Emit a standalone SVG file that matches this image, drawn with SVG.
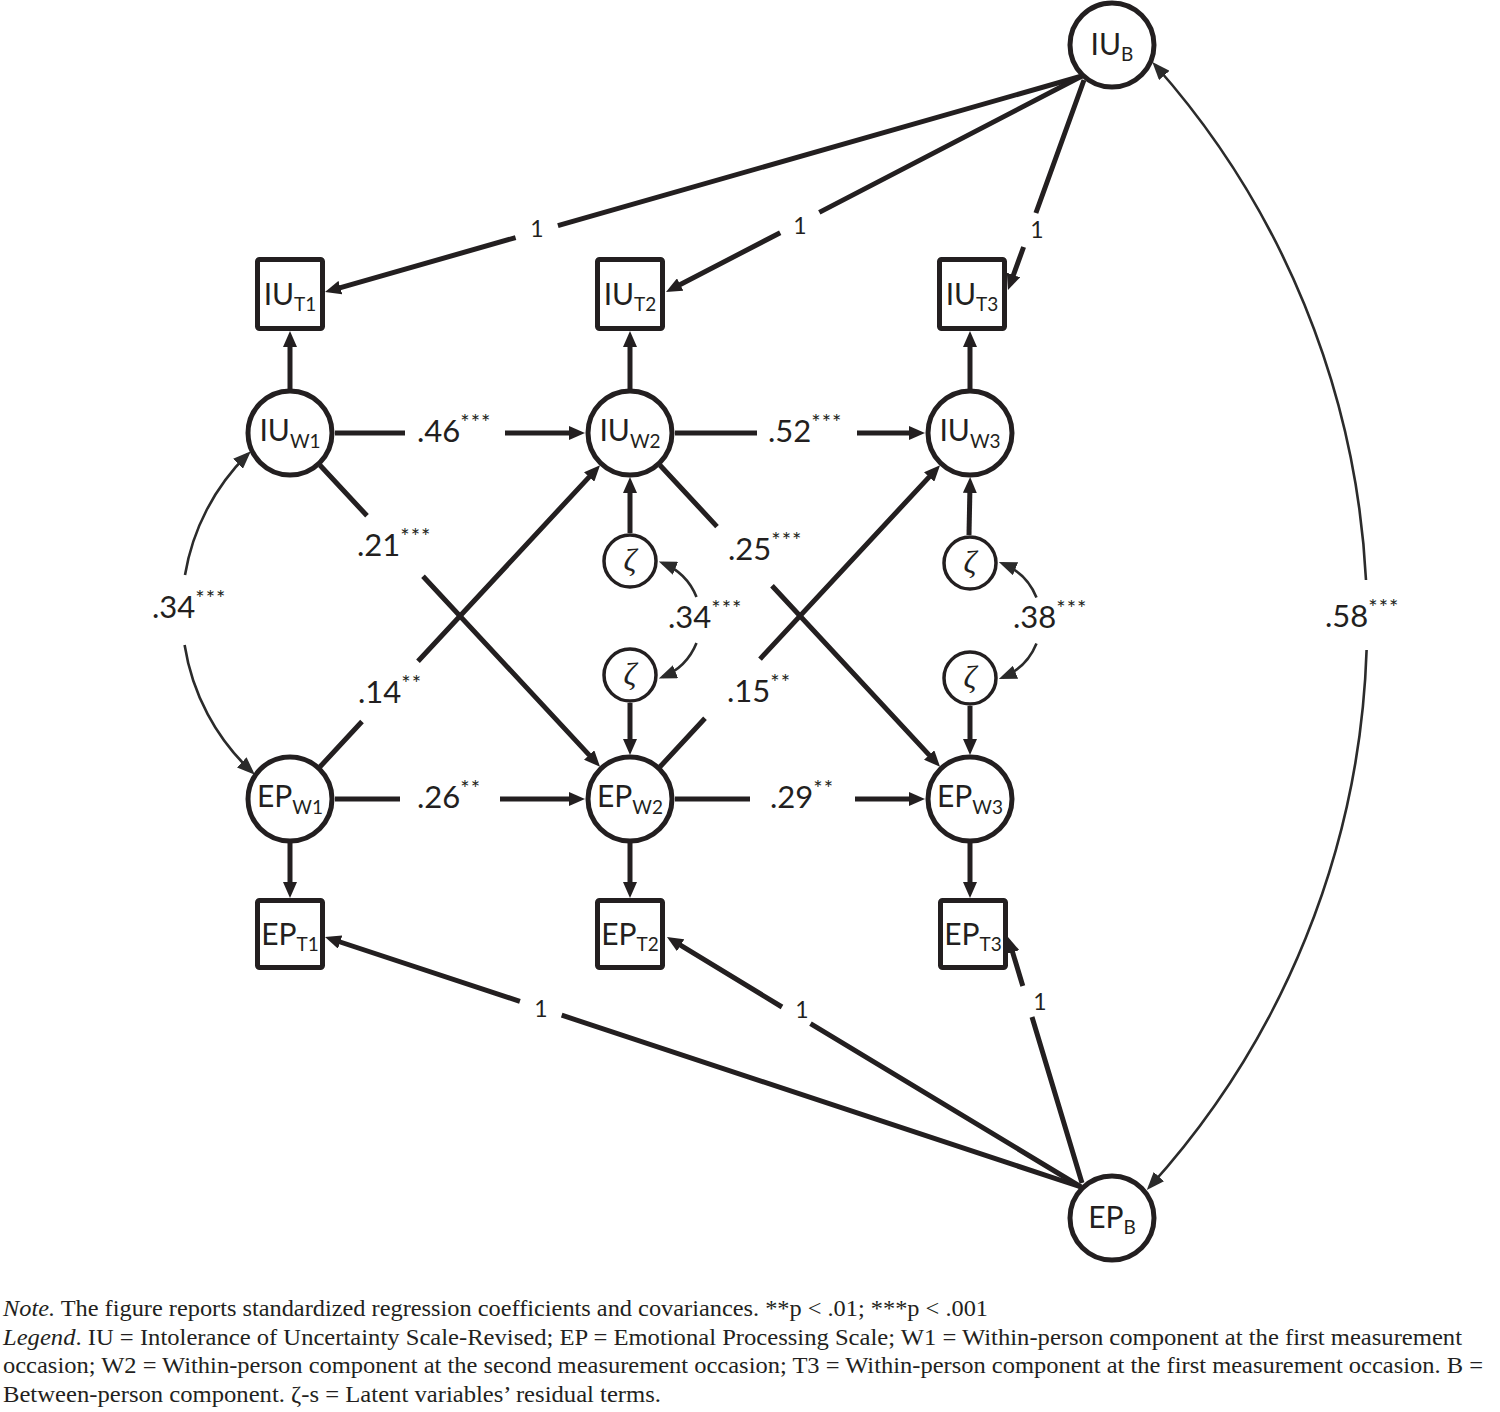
<svg xmlns="http://www.w3.org/2000/svg" width="1500" height="1412" viewBox="0 0 1500 1412">
<style>
.bg{fill:#ffffff}
.node{fill:#ffffff;stroke:#231f20;stroke-width:5}
.zeta{fill:#ffffff;stroke:#231f20;stroke-width:3.5}
.lbl{font-family:Lato,"Open Sans","Liberation Sans",sans-serif;font-size:30px;fill:#231f20;text-anchor:middle}
.sub{font-size:19px}
.zt{font-family:"Liberation Serif","DejaVu Serif",serif;font-style:italic;font-size:32px;fill:#231f20;text-anchor:middle}
.thick{fill:none;stroke:#231f20;stroke-width:5}
.thin{fill:none;stroke:#2b2b2b;stroke-width:2.6}
.coef{font-family:Lato,"Open Sans","Liberation Sans",sans-serif;font-size:31px;fill:#231f20}
.st{font-size:22px;letter-spacing:1px}
.one{font-family:Lato,"Open Sans","Liberation Sans",sans-serif;font-size:23px;fill:#231f20;text-anchor:middle}
.note{font-family:"Liberation Serif","Times New Roman",serif;font-size:24px;fill:#231f20}
</style>
<defs>
<marker id="ah" markerUnits="userSpaceOnUse" viewBox="0 0 16 14" markerWidth="16" markerHeight="14" refX="8" refY="7" orient="auto"><path d="M0,0 L16,7 L0,14 z" fill="#231f20"/></marker>
<marker id="ahs" markerUnits="userSpaceOnUse" viewBox="0 0 18 14" markerWidth="18" markerHeight="14" refX="14" refY="7" orient="auto-start-reverse"><path d="M0,0 L18,7 L0,14 z" fill="#2b2b2b"/></marker>
</defs>
<rect class="bg" x="0" y="0" width="1500" height="1412"/>

<g id="connectors">
<path class="thick" marker-end="url(#ah)" d="M1082 76 L557.9 225.6 M515.6 237.6 L332.7 289.8"/>
<path class="thick" marker-end="url(#ah)" d="M1082 76 L819.3 212.4 M780.2 232.7 L673.1 288.3"/>
<path class="thick" marker-end="url(#ah)" d="M1084 80 L1035.9 213 M1023.6 247 L1010.7 282.5"/>
<path class="thick" marker-end="url(#ah)" d="M1081 1187 L561.7 1015.2 M519.9 1001.4 L332.6 939.5"/>
<path class="thick" marker-end="url(#ah)" d="M1081 1187 L810.5 1023.6 M782 1007 L673.8 941.1"/>
<path class="thick" marker-end="url(#ah)" d="M1082 1183 L1032 1017 M1022.8 986 L1010.3 944.6"/>
<path class="thick" marker-end="url(#ah)" d="M290 389 V339"/>
<path class="thick" marker-end="url(#ah)" d="M630 389 V339"/>
<path class="thick" marker-end="url(#ah)" d="M970 389 V339"/>
<path class="thick" marker-end="url(#ah)" d="M290 843 V890"/>
<path class="thick" marker-end="url(#ah)" d="M630 843 V890"/>
<path class="thick" marker-end="url(#ah)" d="M970 843 V890"/>
<path class="thick" marker-end="url(#ah)" d="M630 533 V485"/>
<path class="thick" marker-end="url(#ah)" d="M630 703 V747"/>
<path class="thick" marker-end="url(#ah)" d="M969 535 L970 485"/>
<path class="thick" marker-end="url(#ah)" d="M970 706 V747"/>
<path class="thick" marker-end="url(#ah)" d="M335 433 H405 M505 433 H577"/>
<path class="thick" marker-end="url(#ah)" d="M675 433 H757 M857 433 H917"/>
<path class="thick" marker-end="url(#ah)" d="M335 799 H400 M500 799 H577"/>
<path class="thick" marker-end="url(#ah)" d="M675 799 H750 M855 799 H917"/>
<path class="thick" marker-end="url(#ah)" d="M320 465.2 L367 515.8 M423 576.2 L594.6 760.9"/>
<path class="thick" marker-end="url(#ah)" d="M320 766.8 L362 721.5 M418 661.3 L594.6 471.1"/>
<path class="thick" marker-end="url(#ah)" d="M660 465.2 L717 526.6 M772 585.8 L934.6 760.9"/>
<path class="thick" marker-end="url(#ah)" d="M660 766.8 L705 718.3 M760 659.1 L934.6 471.1"/>
<path class="thin" marker-start="url(#ahs)" d="M248 454 A220 220 0 0 0 185 575"/>
<path class="thin" marker-end="url(#ahs)" d="M184.6 645 A220 220 0 0 0 252 772"/>
<path class="thin" marker-start="url(#ahs)" d="M662.5 563 A61.5 61.5 0 0 1 696.5 597"/>
<path class="thin" marker-end="url(#ahs)" d="M696.5 643 A61.5 61.5 0 0 1 662.5 677"/>
<path class="thin" marker-start="url(#ahs)" d="M1002.5 563.5 A61.5 61.5 0 0 1 1036.5 597.5"/>
<path class="thin" marker-end="url(#ahs)" d="M1036.5 643.5 A61.5 61.5 0 0 1 1002.5 677.5"/>
<path class="thin" marker-start="url(#ahs)" d="M1155 65 A840 840 0 0 1 1366 580"/>
<path class="thin" marker-end="url(#ahs)" d="M1366.6 650 A840 840 0 0 1 1149.5 1187"/>
</g>

<g id="edge-labels">
<text class="one" x="537" y="237">1</text>
<text class="one" x="800" y="234">1</text>
<text class="one" x="1037" y="238">1</text>
<text class="one" x="541" y="1017">1</text>
<text class="one" x="802" y="1018">1</text>
<text class="one" x="1040" y="1010">1</text>
<text class="coef" x="417" y="442">.46<tspan class="st" dy="-12">***</tspan></text>
<text class="coef" x="768" y="442">.52<tspan class="st" dy="-12">***</tspan></text>
<text class="coef" x="417" y="808">.26<tspan class="st" dy="-12">**</tspan></text>
<text class="coef" x="770" y="808">.29<tspan class="st" dy="-12">**</tspan></text>
<text class="coef" x="357" y="556">.21<tspan class="st" dy="-12">***</tspan></text>
<text class="coef" x="358" y="703">.14<tspan class="st" dy="-12">**</tspan></text>
<text class="coef" x="728" y="560">.25<tspan class="st" dy="-12">***</tspan></text>
<text class="coef" x="727" y="702">.15<tspan class="st" dy="-12">**</tspan></text>
<text class="coef" x="152" y="618">.34<tspan class="st" dy="-12">***</tspan></text>
<text class="coef" x="668" y="628">.34<tspan class="st" dy="-12">***</tspan></text>
<text class="coef" x="1013" y="628">.38<tspan class="st" dy="-12">***</tspan></text>
<text class="coef" x="1325" y="627">.58<tspan class="st" dy="-12">***</tspan></text>
</g>

<g id="IU_B"><circle class="node" cx="1112" cy="45" r="42"/><text class="lbl" x="1112" y="55">IU<tspan class="sub" dy="6">B</tspan></text></g>
<g id="EP_B"><circle class="node" cx="1112" cy="1218" r="42"/><text class="lbl" x="1112" y="1228">EP<tspan class="sub" dy="6">B</tspan></text></g>

<g id="IU_T1"><rect class="node" x="257.5" y="259.5" width="65" height="69" rx="2"/><text class="lbl" x="290" y="305">IU<tspan class="sub" dy="6">T1</tspan></text></g>
<g id="IU_T2"><rect class="node" x="597.5" y="259.5" width="65" height="69" rx="2"/><text class="lbl" x="630" y="305">IU<tspan class="sub" dy="6">T2</tspan></text></g>
<g id="IU_T3"><rect class="node" x="939.5" y="259.5" width="65" height="69" rx="2"/><text class="lbl" x="972" y="305">IU<tspan class="sub" dy="6">T3</tspan></text></g>

<g id="IU_W1"><circle class="node" cx="290" cy="433" r="42"/><text class="lbl" x="290" y="441">IU<tspan class="sub" dy="7">W1</tspan></text></g>
<g id="IU_W2"><circle class="node" cx="630" cy="433" r="42"/><text class="lbl" x="630" y="441">IU<tspan class="sub" dy="7">W2</tspan></text></g>
<g id="IU_W3"><circle class="node" cx="970" cy="433" r="42"/><text class="lbl" x="970" y="441">IU<tspan class="sub" dy="7">W3</tspan></text></g>

<g id="zeta_IU2"><circle class="zeta" cx="630" cy="561" r="26"/><text class="zt" x="630" y="571">ζ</text></g>
<g id="zeta_EP2"><circle class="zeta" cx="630" cy="675" r="26"/><text class="zt" x="630" y="685">ζ</text></g>
<g id="zeta_IU3"><circle class="zeta" cx="970" cy="563" r="26"/><text class="zt" x="970" y="573">ζ</text></g>
<g id="zeta_EP3"><circle class="zeta" cx="970" cy="678" r="26"/><text class="zt" x="970" y="688">ζ</text></g>

<g id="EP_W1"><circle class="node" cx="290" cy="799" r="42"/><text class="lbl" x="290" y="807">EP<tspan class="sub" dy="7">W1</tspan></text></g>
<g id="EP_W2"><circle class="node" cx="630" cy="799" r="42"/><text class="lbl" x="630" y="807">EP<tspan class="sub" dy="7">W2</tspan></text></g>
<g id="EP_W3"><circle class="node" cx="970" cy="799" r="42"/><text class="lbl" x="970" y="807">EP<tspan class="sub" dy="7">W3</tspan></text></g>

<g id="EP_T1"><rect class="node" x="257.5" y="900.5" width="65" height="67" rx="2"/><text class="lbl" x="290" y="945">EP<tspan class="sub" dy="6">T1</tspan></text></g>
<g id="EP_T2"><rect class="node" x="597.5" y="900.5" width="65" height="67" rx="2"/><text class="lbl" x="630" y="945">EP<tspan class="sub" dy="6">T2</tspan></text></g>
<g id="EP_T3"><rect class="node" x="940.5" y="900.5" width="65" height="67" rx="2"/><text class="lbl" x="973" y="945">EP<tspan class="sub" dy="6">T3</tspan></text></g>

<g id="note">
<text class="note" x="3" y="1316" textLength="985" lengthAdjust="spacingAndGlyphs"><tspan font-style="italic">Note.</tspan> The figure reports standardized regression coefficients and covariances. **p &lt; .01; ***p &lt; .001</text>
<text class="note" x="3" y="1345" textLength="1459" lengthAdjust="spacingAndGlyphs"><tspan font-style="italic">Legend</tspan>. IU = Intolerance of Uncertainty Scale-Revised; EP = Emotional Processing Scale; W1 = Within-person component at the first measurement</text>
<text class="note" x="3" y="1373" textLength="1480" lengthAdjust="spacingAndGlyphs">occasion; W2 = Within-person component at the second measurement occasion; T3 = Within-person component at the first measurement occasion. B =</text>
<text class="note" x="3" y="1402" textLength="658" lengthAdjust="spacingAndGlyphs">Between-person component. ζ-s = Latent variables’ residual terms.</text>
</g>
</svg>
